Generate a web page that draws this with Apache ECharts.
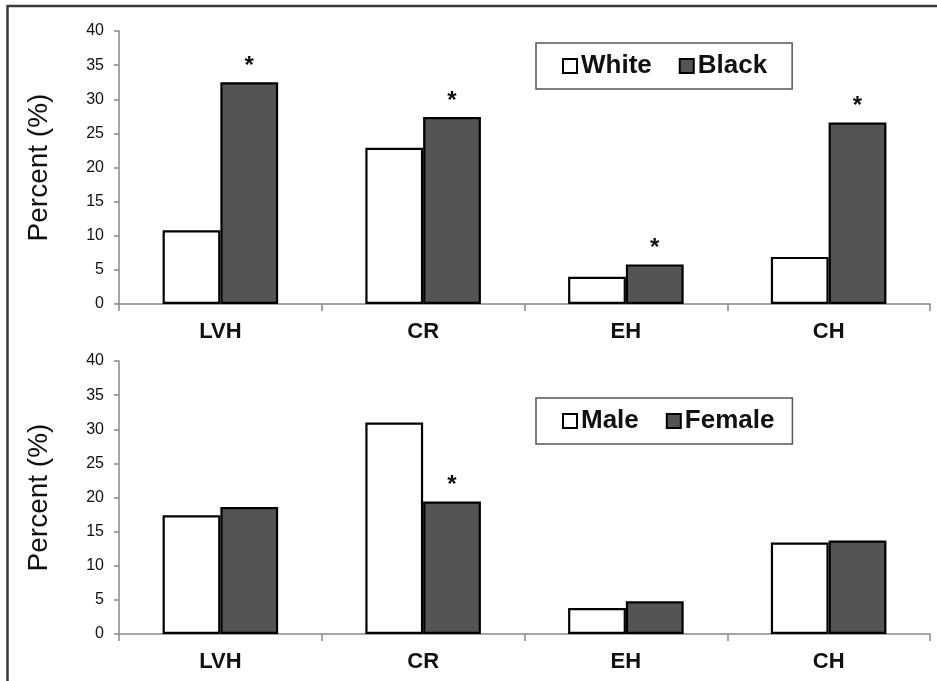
<!DOCTYPE html>
<html>
<head>
<meta charset="utf-8">
<script src="https://cdn.jsdelivr.net/npm/echarts@6/dist/echarts.min.js"></script>
<style>
html,body{margin:0;padding:0;background:#fff;}
#chart{width:937px;height:681px;}
</style>
</head>
<body>
<div id="chart"></div>
<script>
var categories = ['LVH', 'CR', 'EH', 'CH'];
var yTicks = [0, 5, 10, 15, 20, 25, 30, 35, 40];
var whiteVals = [10.8, 22.9, 4.0, 6.9];
var blackVals = [32.5, 27.4, 5.8, 26.6];
var maleVals = [17.4, 31.0, 3.8, 13.4];
var femaleVals = [18.6, 19.4, 4.8, 13.7];
var raceSig = [true, true, true, true];
var sexSig = [false, true, false, false];

var FONT = 'Arial, "Liberation Sans", Helvetica, sans-serif';
var DARK = '#545454';

function starData(vals, sig) {
  return vals.map(function (v, i) {
    return {
      value: v,
      label: {
        show: sig[i],
        position: 'top',
        distance: 4,
        formatter: '*',
        fontFamily: FONT,
        fontWeight: 'bold',
        fontSize: 24,
        color: '#111'
      }
    };
  });
}

function xAx(gi) {
  return {
    type: 'category', gridIndex: gi, data: categories,
    axisLine: {show: true, lineStyle: {color: '#888', width: 1.5}},
    axisTick: {show: true, length: 7, lineStyle: {color: '#888', width: 1.5}},
    axisLabel: {fontFamily: FONT, fontWeight: 'bold', fontSize: 22, color: '#111', margin: 17},
    splitLine: {show: false}
  };
}
function yAx(gi) {
  return {
    type: 'value', gridIndex: gi, min: yTicks[0], max: yTicks[yTicks.length - 1], interval: yTicks[1] - yTicks[0],
    name: 'Percent (%)', nameLocation: 'middle', nameGap: 66, nameRotate: 90,
    nameTextStyle: {fontFamily: FONT, fontSize: 28, color: '#111'},
    axisLine: {show: true, lineStyle: {color: '#888', width: 1.5}},
    axisTick: {show: true, length: 5, lineStyle: {color: '#888', width: 1.5}},
    axisLabel: {fontFamily: FONT, fontSize: 16, color: '#111', margin: 15},
    splitLine: {show: false}
  };
}
function barSeries(name, vals, sig, color, gi) {
  return {
    name: name, type: 'bar', xAxisIndex: gi, yAxisIndex: gi,
    data: starData(vals, sig),
    barGap: '0%', barCategoryGap: '43%',
    itemStyle: {color: color, borderColor: '#000', borderWidth: 2.2},
    emphasis: {disabled: true},
    animation: false
  };
}
function legendFor(names, top, rightPad) {
  return {
    data: names, left: 536, top: top, orient: 'horizontal',
    itemWidth: 14, itemHeight: 14, itemGap: 27,
    padding: [10, rightPad, 10, 26],
    borderColor: '#555', borderWidth: 1.5, borderRadius: 0,
    icon: 'rect',
    itemStyle: {borderColor: '#000', borderWidth: 2},
    textStyle: {fontFamily: FONT, fontWeight: 'bold', fontSize: 26, color: '#111', padding: [0, 0, 0, -1]},
    selectedMode: false
  };
}

var chart = echarts.init(document.getElementById('chart'), null, {renderer: 'canvas'});
chart.setOption({
  backgroundColor: '#fff',
  animation: false,
  grid: [
    {left: 119, right: 7, top: 31, height: 273},
    {left: 119, right: 7, top: 361, height: 273}
  ],
  xAxis: [xAx(0), xAx(1)],
  yAxis: [yAx(0), yAx(1)],
  legend: [legendFor(['White', 'Black'], 43, 25), legendFor(['Male', 'Female'], 398, 18)],
  series: [
    barSeries('White', whiteVals, [false, false, false, false], '#fff', 0),
    barSeries('Black', blackVals, raceSig, DARK, 0),
    barSeries('Male', maleVals, [false, false, false, false], '#fff', 1),
    barSeries('Female', femaleVals, sexSig, DARK, 1)
  ],
  graphic: [
    {type: 'line', shape: {x1: 7, y1: 6, x2: 937, y2: 6}, style: {stroke: '#3a3a3a', lineWidth: 2.5}, silent: true},
    {type: 'line', shape: {x1: 7.5, y1: 5, x2: 7.5, y2: 681}, style: {stroke: '#3a3a3a', lineWidth: 2.5}, silent: true}
  ]
});
</script>
</body>
</html>
